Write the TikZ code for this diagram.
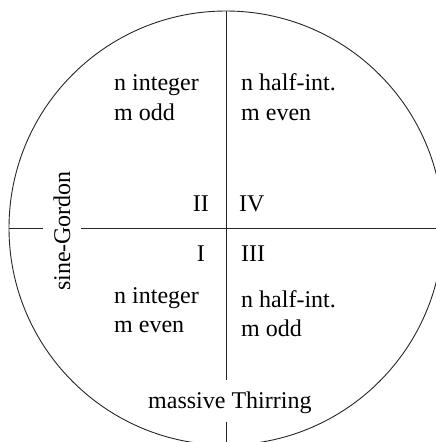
\documentclass[tikz,border=0pt]{standalone}
\usepackage{fontspec}
\setmainfont{Liberation Serif}
\begin{document}
\begin{tikzpicture}[x=1pt,y=-1pt,
  lbl/.style={inner sep=0pt,font=\fontsize{24}{30}\selectfont,align=left},
  ln/.style={line width=0.9pt,draw=black!85}]
\useasboundingbox (0,0) rectangle (436,442);
\clip (0,0) rectangle (436,442);
\coordinate (O) at (226,228);
\draw[ln] (O) circle[radius=217];
\coordinate (vt) at (226,11);
\coordinate (vm) at (226,380);
\coordinate (vm2) at (226,422);
\coordinate (vb) at (226,445);
\coordinate (hl) at (9,228);
\coordinate (hm) at (43,228);
\coordinate (hm2) at (81,228);
\coordinate (hr) at (440,228);
\draw[ln] (vt) -- (vm);
\draw[ln] (vm2) -- (vb);
\draw[ln] (hl) -- (hm);
\draw[ln] (hm2) -- (hr);
\node[lbl,anchor=base west] (q2t) at (114,120) {n integer\\m odd};
\node[lbl,anchor=base west] (q4t) at (241,120) {n half-int.\\m even};
\node[lbl,anchor=base east] (q2) at (209,211) {II};
\node[lbl,anchor=base west] (q4) at (239,211) {IV};
\node[lbl,anchor=base east] (q1) at (205,261) {I};
\node[lbl,anchor=base west] (q3) at (241,261) {III};
\node[lbl,anchor=base west,font=\fontsize{24}{29}\selectfont] (q1t) at (114,332) {n integer\\m even};
\node[lbl,anchor=base west,font=\fontsize{24}{29}\selectfont] (q3t) at (241,336) {n half-int.\\m odd};
\node[lbl,anchor=base west] (mt) at (148,408) {massive Thirring};
\node[lbl,anchor=base,rotate=90] (sg) at (70,231) {sine-Gordon};
\end{tikzpicture}
\end{document}
